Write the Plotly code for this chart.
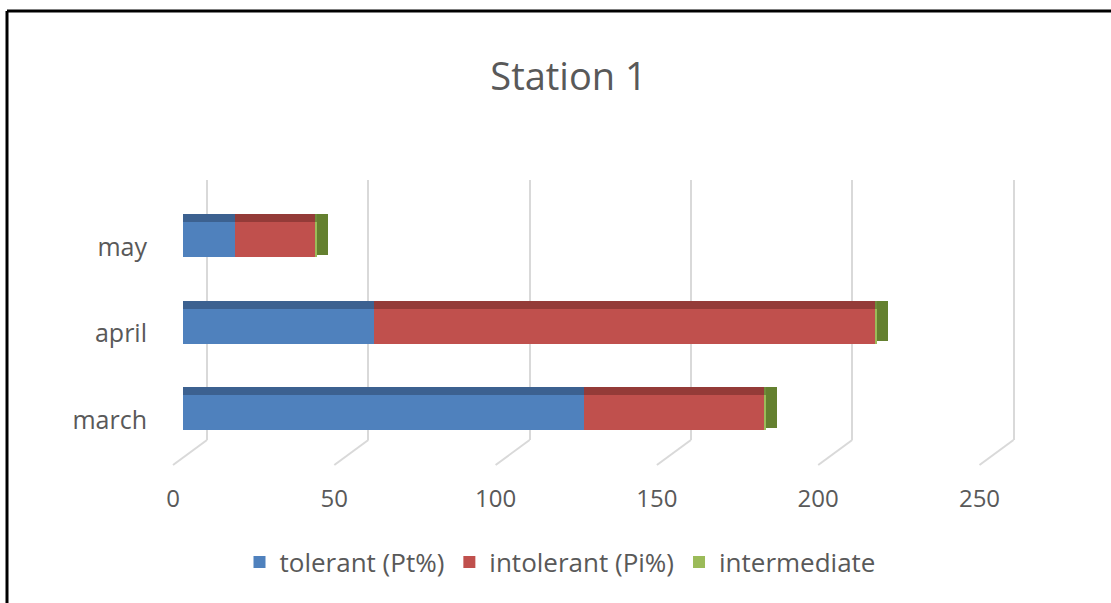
import plotly.graph_objects as go

# ---- data ----
months = ["march", "april", "may"]
tolerant = [124.3, 59.2, 16.1]
intolerant = [56.1, 155.3, 25.1]
intermediate = [0.4, 0.7, 0.4]
series_names = ["tolerant (Pt%)", "intolerant (Pi%)", "intermediate"]
tick_vals = [0, 50, 100, 150, 200, 250]
tick_text = ["0", "50", "100", "150", "200", "250"]

# ---- style / geometry (pixels) ----
W, H = 1111, 603
L, R = 160, 1030          # plot area left/right
T, B = 170, 473           # paper top/bottom
PX_PER_UNIT = 3.226
BAR_ZERO_PX = 183         # front faces of the bars
GRID_ZERO_PX = 207        # back wall gridlines
LABEL_ZERO_PX = 173       # floor front tick labels
GRID_TOP, GRID_BOT, FLOOR_PX = 180, 440, 465
BARS_TOP, BARS_BOT = 197, 456

def xr(zero):
    return [(L - zero) / PX_PER_UNIT, (R - zero) / PX_PER_UNIT]

def pdom(top_px, bot_px):
    return [(B - bot_px) / (B - T), (B - top_px) / (B - T)]

front_cols = ["#4f81bd", "#c0504d", "#9bbb59"]
top_cols = ["#3c6190", "#943b38", "#6f8a3a"]
side_col = "#64802f"
txt_col = "#595959"
FONT = "Open Sans"

FRONT_OFF, FRONT_W = -0.2, 0.405
TOP_OFF, TOP_W = 0.205, 0.093
DEPTH_UNITS = 3.3

fig = go.Figure()

# dummy traces so the grid / label axes are drawn
fig.add_trace(go.Scatter(x=[None], y=[None], xaxis="x", yaxis="y",
                         showlegend=False, hoverinfo="skip"))
fig.add_trace(go.Scatter(x=[None], y=[None], xaxis="x3", yaxis="y",
                         showlegend=False, hoverinfo="skip"))

vals = [tolerant, intolerant, intermediate]
bases = [[0] * 3,
         list(tolerant),
         [a + b for a, b in zip(tolerant, intolerant)]]
totals = [a + b + c for a, b, c in zip(tolerant, intolerant, intermediate)]

for i in range(3):
    fig.add_trace(go.Bar(
        y=months, x=vals[i], base=bases[i], orientation="h",
        name=series_names[i], marker=dict(color=front_cols[i], line=dict(width=0)),
        offset=FRONT_OFF, width=FRONT_W, xaxis="x2", yaxis="y2",
        showlegend=True, legendrank=i + 1))
for i in range(3):
    fig.add_trace(go.Bar(
        y=months, x=vals[i], base=bases[i], orientation="h",
        marker=dict(color=top_cols[i], line=dict(width=0)),
        offset=TOP_OFF, width=TOP_W, xaxis="x2", yaxis="y2",
        showlegend=False, hoverinfo="skip"))
fig.add_trace(go.Bar(
    y=months, x=[DEPTH_UNITS] * 3, base=totals, orientation="h",
    marker=dict(color=side_col, line=dict(width=0)),
    offset=FRONT_OFF + 0.03, width=FRONT_W + TOP_W - 0.03, xaxis="x2", yaxis="y2",
    showlegend=False, hoverinfo="skip"))

# diagonal floor lines joining back gridlines to the front tick positions
shapes = []
gb = (B - GRID_BOT) / (B - T)
fl = (B - FLOOR_PX) / (B - T)
for v in tick_vals:
    shapes.append(dict(type="line", xref="x", yref="paper",
                       x0=v, y0=gb,
                       x1=v - (GRID_ZERO_PX - LABEL_ZERO_PX) / PX_PER_UNIT, y1=fl,
                       line=dict(color="#d9d9d9", width=2)))
# chart border (top and left)
shapes.append(dict(type="line", xref="paper", yref="paper",
                   x0=(7 - L) / (R - L), x1=(W - L) / (R - L),
                   y0=(B - 11) / (B - T), y1=(B - 11) / (B - T),
                   line=dict(color="black", width=3)))
shapes.append(dict(type="line", xref="paper", yref="paper",
                   x0=(7 - L) / (R - L), x1=(7 - L) / (R - L),
                   y0=(B - 11) / (B - T), y1=(B - H) / (B - T),
                   line=dict(color="black", width=3)))

fig.update_layout(
    width=W, height=H,
    margin=dict(l=L, r=W - R, t=T, b=H - B, autoexpand=False),
    paper_bgcolor="white", plot_bgcolor="rgba(0,0,0,0)",
    barmode="overlay", bargap=0,
    font=dict(family=FONT, color=txt_col),
    title=dict(text="Station 1", font=dict(family=FONT, size=38, color=txt_col),
               xref="container", yref="container", x=568.5 / W, xanchor="center",
               y=1 - 77 / H, yanchor="middle"),
    xaxis=dict(domain=[0, 1], range=xr(GRID_ZERO_PX), anchor="y",
               showgrid=True, gridcolor="#d9d9d9", gridwidth=2,
               tickvals=tick_vals, showticklabels=False, ticks="",
               zeroline=False, showline=False, automargin=False),
    yaxis=dict(domain=pdom(GRID_TOP, GRID_BOT), range=[0, 1], visible=False,
               automargin=False),
    xaxis3=dict(overlaying="x", anchor="y", side="bottom", range=xr(LABEL_ZERO_PX),
                showgrid=False, zeroline=False, showline=False, ticks="",
                tickvals=tick_vals, ticktext=tick_text,
                tickfont=dict(family=FONT, size=24, color=txt_col),
                ticklabelstandoff=42, automargin=False),
    xaxis2=dict(domain=[0, 1], range=xr(BAR_ZERO_PX), anchor="y2", visible=False,
                automargin=False),
    yaxis2=dict(domain=pdom(BARS_TOP, BARS_BOT), anchor="x2", type="category",
                categoryorder="array", categoryarray=months, range=[-0.5, 2.5],
                showgrid=False, zeroline=False, showline=False, ticks="",
                tickfont=dict(family=FONT, size=25, color=txt_col),
                ticklabelstandoff=12, ticklabelshift=7, automargin=False),
    legend=dict(orientation="h", xref="container", yref="container",
                x=560 / W, xanchor="center", y=1 - 562 / H, yanchor="middle",
                font=dict(family=FONT, size=26, color=txt_col),
                traceorder="normal", itemwidth=30),
    shapes=shapes,
)

fig.write_html("out.html")
